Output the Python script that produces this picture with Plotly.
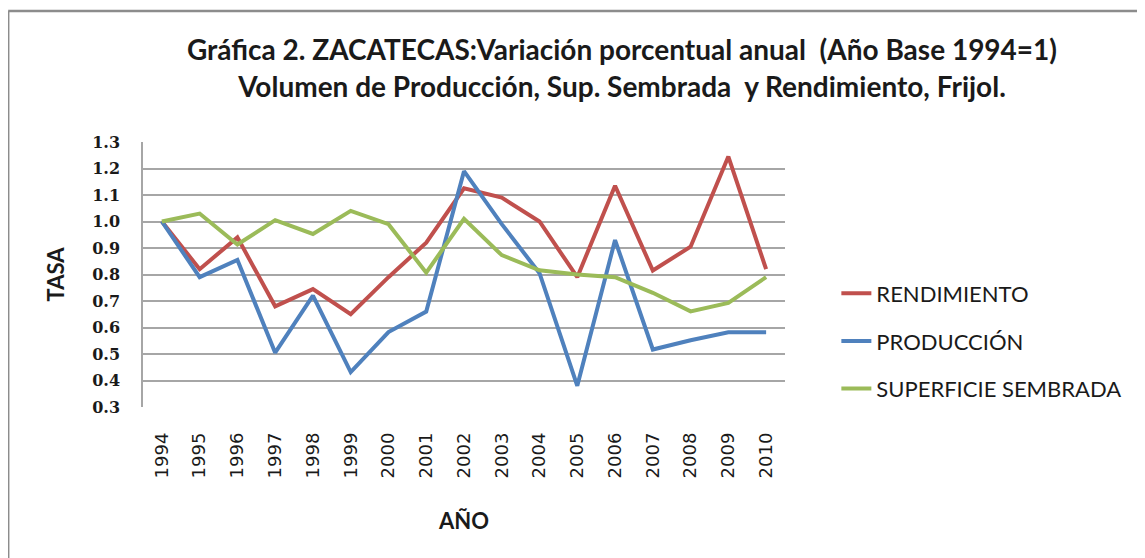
import plotly.graph_objects as go

years = [str(y) for y in range(1994, 2011)]
rendimiento = [1.0, 0.82, 0.94, 0.68, 0.745, 0.65, 0.79, 0.92, 1.125, 1.09, 1.0, 0.79, 1.135, 0.815, 0.905, 1.245, 0.82]
produccion = [1.0, 0.79, 0.855, 0.505, 0.72, 0.432, 0.583, 0.66, 1.19, 0.99, 0.805, 0.38, 0.93, 0.517, 0.552, 0.582, 0.582]
superficie = [1.0, 1.03, 0.913, 1.005, 0.953, 1.04, 0.99, 0.807, 1.01, 0.873, 0.816, 0.80, 0.79, 0.731, 0.661, 0.693, 0.79]

series = [
    ("RENDIMIENTO", rendimiento, "#C0504D"),
    ("PRODUCCIÓN", produccion, "#4F81BD"),
    ("SUPERFICIE SEMBRADA", superficie, "#9BBB59"),
]

fig = go.Figure()
for name, vals, color in series:
    fig.add_trace(go.Scatter(x=years, y=vals, mode="lines", name=name, legendgroup=name,
                             line=dict(color=color, width=4)))

fig.update_layout(
    width=1137, height=550,
    margin=dict(l=135, r=360, t=134, b=151),
    paper_bgcolor="white", plot_bgcolor="white",
    title=dict(
        text="Gráfica 2. ZACATECAS:Variación porcentual anual  (Año Base 1994=1)<br>Volumen de Producción, Sup. Sembrada  y Rendimiento, Frijol.",
        x=0.54, xanchor="center", y=0.905, yanchor="middle",
        font=dict(family="Lato", size=28, color="#1a1a1a", weight="bold"),
    ),
    legend=dict(x=1.08, xanchor="left", y=0.249, yanchor="middle", tracegroupgap=16,
                font=dict(family="Lato", size=22, color="#1a1a1a"), bgcolor="rgba(0,0,0,0)"),
    xaxis=dict(
        type="category", range=[-0.5, 16.5], tickangle=-90, showgrid=False, zeroline=False,
        showline=False, ticks="", ticklabelstandoff=21,
        tickfont=dict(family="DejaVu Sans", size=18, color="#1a1a1a"),
        title=dict(text="AÑO", font=dict(family="Lato", size=22, color="#1a1a1a", weight="bold"), standoff=36),
    ),
    yaxis=dict(
        range=[0.3, 1.3], dtick=0.1, tickformat=".1f",
        showgrid=True, gridcolor="#A6A6A6", gridwidth=1.5,
        showline=True, linecolor="#A6A6A6", linewidth=1.5, zeroline=False,
        ticks="", ticklabelstandoff=18,
        tickfont=dict(family="DejaVu Serif", size=16, color="#1a1a1a", weight="bold"),
        title=dict(text="TASA", font=dict(family="Lato", size=22, color="#1a1a1a", weight="bold"), standoff=22),
    ),
)

# outer chart frame (top and left edges only are visible in the picture)
fig.add_shape(type="line", xref="paper", yref="paper", x0=-0.21, x1=1.8, y0=1.494, y1=1.494,
              line=dict(color="#8C8C8C", width=2.5), layer="below")
fig.add_shape(type="line", xref="paper", yref="paper", x0=-0.21, x1=-0.21, y0=-0.8, y1=1.494,
              line=dict(color="#8C8C8C", width=2.5), layer="below")

fig.write_html("out.html")
